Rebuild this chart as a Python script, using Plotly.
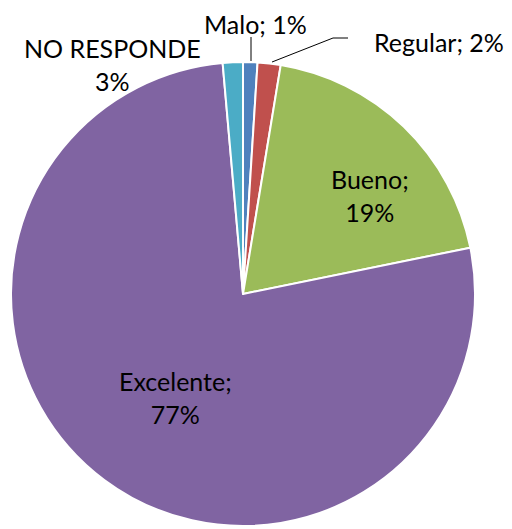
import plotly.graph_objects as go

# Data (clockwise from 12 o'clock)
categories = ["Malo", "Regular", "Bueno", "Excelente", "NO RESPONDE"]
values = [1.0, 1.6, 19.2, 76.8, 1.4]
shown_pct = [1, 2, 19, 77, 3]
colors = ["#4F81BD", "#C0504D", "#9BBB59", "#8064A2", "#4BACC6"]

W, H = 512, 529
OFF = 8  # page body margin offset


def px(x):
    return (x - OFF) / W


def py(y):
    return 1 - (y - OFF) / H


fig = go.Figure(
    go.Pie(
        labels=categories,
        values=values,
        sort=False,
        direction="clockwise",
        rotation=0,
        marker=dict(colors=colors, line=dict(color="white", width=2)),
        textinfo="none",
        hoverinfo="label+percent",
        showlegend=False,
        domain=dict(x=[px(11), px(475)], y=[py(526), py(62)]),
    )
)

FONT = dict(family="Lato, Arial, sans-serif", size=25, color="black")

labels = {c: f"{c}; {p}%" for c, p in zip(categories, shown_pct)}
ann = [
    dict(text=labels["Malo"], x=px(255), y=py(24)),
    dict(text=labels["Regular"], x=px(439), y=py(42)),
    dict(text=f"Bueno;<br>{shown_pct[2]}%", x=px(370), y=py(195)),
    dict(text=f"Excelente;<br>{shown_pct[3]}%", x=px(175), y=py(397)),
    dict(text=f"NO RESPONDE<br>{shown_pct[4]}%", x=px(112), y=py(64)),
]
for a in ann:
    fig.add_annotation(
        text=a["text"], x=a["x"], y=a["y"], xref="paper", yref="paper",
        showarrow=False, font=FONT, align="center",
        xanchor="center", yanchor="middle",
    )

line = dict(color="black", width=1)
fig.add_shape(type="line", xref="paper", yref="paper",
              x0=px(251), y0=py(37), x1=px(251), y1=py(61), line=line)
fig.add_shape(type="path", xref="paper", yref="paper",
              path=f"M {px(272)} {py(62)} L {px(333)} {py(38)} L {px(348)} {py(38)}",
              line=line)

fig.update_layout(
    width=W, height=H,
    margin=dict(l=0, r=0, t=0, b=0),
    paper_bgcolor="white",
    plot_bgcolor="white",
)

fig.write_html("out.html")
